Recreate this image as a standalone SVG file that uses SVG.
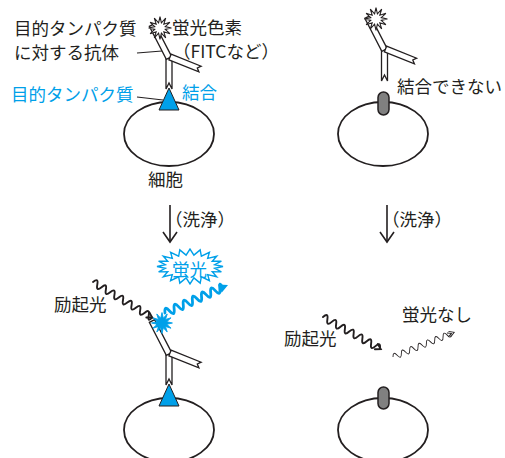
<svg xmlns="http://www.w3.org/2000/svg" width="505" height="458" viewBox="0 0 505 458">
  <style>
    text { font-family: "Noto Sans CJK JP", "Noto Sans", sans-serif; font-size: 17.5px; fill: #231f20; }
    .blue { fill: #00a0e9; }
    .cell { fill: #ffffff; stroke: #231f20; stroke-width: 1.8; }
    .ab { fill: #ffffff; stroke: #231f20; stroke-width: 1.3; stroke-linejoin: miter; }
    .lead { fill: none; stroke: #231f20; stroke-width: 1.1; }
    .wash { fill: none; stroke: #231f20; stroke-width: 1.6; }
    .wave { fill: none; stroke: #231f20; stroke-width: 1.9; stroke-linecap: round; }
    .bwave { fill: none; stroke: #00a0e9; stroke-width: 2.8; stroke-linecap: round; }
    .thin { fill: none; stroke: #231f20; stroke-width: 0.9; }
    .antigen { fill: #00a0e9; stroke: #231f20; stroke-width: 1; }
    .other { fill: #808080; stroke: #231f20; stroke-width: 1.5; }
  </style>
  <defs>
    <!-- spiky dye burst -->
    <polygon id="burst" points="9.5,0 4.35,1.16 8.23,4.75 3.18,3.18 4.75,8.23 1.16,4.35 0,9.5 -1.16,4.35 -4.75,8.23 -3.18,3.18 -8.23,4.75 -4.35,1.16 -9.5,0 -4.35,-1.16 -8.23,-4.75 -3.18,-3.18 -4.75,-8.23 -1.16,-4.35 0,-9.5 1.16,-4.35 4.75,-8.23 3.18,-3.18 8.23,-4.75 4.35,-1.16"/>
    <!-- Y-shaped antibody, origin at the top of the stem -->
    <g id="antibody">
      <path class="ab" d="M-3,0 V31 L0,25 L3,31 V0 Z"/>
      <polygon class="ab" points="2.67,-1.37 -14.33,-34.37 -19.67,-31.63 -2.67,1.37"/>
      <path class="ab" d="M2.11,-3.79 L32.11,8.21 L28.3,10 L29.89,13.79 L-0.11,1.79 Z"/>
    </g>
  </defs>

  <!-- connectors: washing arrows and leader lines -->
  <g id="connectors">
    <line class="lead" x1="137" y1="53" x2="162" y2="51"/>
    <line class="lead" x1="137" y1="97" x2="163" y2="100"/>
    <line class="wash" x1="170" y1="205" x2="170" y2="242"/>
    <polyline class="wash" points="163,232 170,242 177,232"/>
    <line class="wash" x1="387" y1="205" x2="387" y2="242"/>
    <polyline class="wash" points="380,232 387,242 394,232"/>
  </g>

  <!-- top left: antibody bound to target protein -->
  <g id="cell-bound">
    <ellipse class="cell" cx="169" cy="134" rx="45" ry="32"/>
    <polygon class="antigen" points="169,88 159,110 179,110"/>
    <use href="#antibody" transform="translate(169,58)"/>
    <use href="#burst" transform="translate(160,28) scale(1.2)" fill="#ffffff" stroke="#231f20" stroke-width="0.9"/>
    <text x="14" y="35">目的タンパク質</text>
    <text x="14" y="59">に対する抗体</text>
    <text x="172" y="34">蛍光色素</text>
    <text x="173" y="58">（FITCなど）</text>
    <text class="blue" x="11" y="101">目的タンパク質</text>
    <text class="blue" x="182" y="99">結合</text>
    <text x="148" y="186">細胞</text>
    <text x="165" y="226">（洗浄）</text>
  </g>

  <!-- top right: antibody cannot bind -->
  <g id="cell-unbound">
    <ellipse class="cell" cx="383" cy="134" rx="45" ry="32"/>
    <rect class="other" x="378" y="92" width="11" height="23" rx="5.5"/>
    <use href="#antibody" transform="translate(384.5,50)"/>
    <use href="#burst" transform="translate(376,19) scale(1.2)" fill="#ffffff" stroke="#231f20" stroke-width="0.9"/>
    <text x="397" y="93">結合できない</text>
    <text x="382" y="226">（洗浄）</text>
  </g>

  <!-- bottom left: excitation gives fluorescence -->
  <g id="cell-fluorescent">
    <ellipse class="cell" cx="169" cy="430" rx="45" ry="32"/>
    <polygon class="antigen" points="169,384 159,406 179,406"/>
    <use href="#antibody" transform="translate(169,354)"/>
    <g transform="translate(93,282) rotate(31)">
      <path class="wave" d="M0,0 q2.5,-7 5,0 t5,0 t5,0 t5,0 t5,0 t5,0 t5,0 t5,0 t5,0 t5,0 t5,0 t5,0 t5,0 t4,0"/>
      <polyline class="wave" points="64,-3 69,0 64,3"/>
    </g>
    <use href="#burst" transform="translate(162,323) scale(1.1)" fill="#00a0e9" stroke="#00a0e9" stroke-width="0.8"/>
    <g transform="translate(165,313) rotate(-24)">
      <path class="bwave" d="M0,0 q2.5,-8 5,0 t5,0 t5,0 t5,0 t5,0 t5,0 t5,0 t5,0 t5,0 t5,0 t5,0 t5,0 t3,0"/>
      <path d="M60,-4.5 L69,0 L60,4.5 Z" fill="#00a0e9"/>
    </g>
    <polygon fill="#ffffff" stroke="#00a0e9" stroke-width="1.4" transform="translate(190,266.5)" points="33,0 24.70,1.79 31.38,5.41 22.28,5.22 26.70,10.29 17.68,8.13 19.40,14.16 11.35,10.25 10.20,16.64 3.90,11.36 0,17.5 -3.90,11.36 -10.20,16.64 -11.35,10.25 -19.40,14.16 -17.68,8.13 -26.70,10.29 -22.28,5.22 -31.38,5.41 -24.70,1.79 -33,0 -24.70,-1.79 -31.38,-5.41 -22.28,-5.22 -26.70,-10.29 -17.68,-8.13 -19.40,-14.16 -11.35,-10.25 -10.20,-16.64 -3.90,-11.36 0,-17.5 3.90,-11.36 10.20,-16.64 11.35,-10.25 19.40,-14.16 17.68,-8.13 26.70,-10.29 22.28,-5.22 31.38,-5.41 24.70,-1.79"/>
    <text class="blue" x="172" y="276">蛍光</text>
    <text x="54" y="311">励起光</text>
  </g>

  <!-- bottom right: no fluorescence -->
  <g id="cell-dark">
    <ellipse class="cell" cx="383" cy="430" rx="45" ry="32"/>
    <rect class="other" x="378" y="387" width="11" height="22" rx="5.5"/>
    <g transform="translate(323,317) rotate(29)">
      <path class="wave" d="M0,0 q2.5,-7 5,0 t5,0 t5,0 t5,0 t5,0 t5,0 t5,0 t5,0 t5,0 t5,0 t5,0 t5,0 t5,0"/>
      <polyline class="wave" points="61,-3 66,0 61,3"/>
    </g>
    <g transform="translate(393,357) rotate(-22)">
      <path class="thin" d="M0,0 q2.25,-6 4.5,0 t4.5,0 t4.5,0 t4.5,0 t4.5,0 t4.5,0 t4.5,0 t4.5,0 t4.5,0 t4.5,0 t4.5,0 t4.5,0 t4.5,0 t4,0"/>
      <polyline class="thin" points="61,-3 66,0 61,3"/>
      <polyline class="thin" points="59,-2 63,0 59,2"/>
    </g>
    <text x="284" y="345">励起光</text>
    <text x="402" y="321">蛍光なし</text>
  </g>
</svg>
